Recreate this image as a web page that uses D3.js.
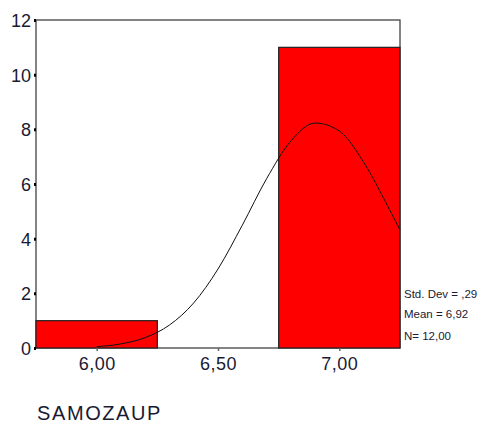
<!DOCTYPE html>
<html><head><meta charset="utf-8">
<script src="https://cdn.jsdelivr.net/npm/d3@7"></script>
<style>body{margin:0;background:#fff;}svg{display:block;font-family:Arial,"Liberation Sans",sans-serif;}</style>
</head><body>
<svg id="c" width="486" height="424"></svg>
<script>
// Histogram bins (lower edge, upper edge, count)
const binStarts = [5.75, 6.25, 6.75];
const binEnds   = [6.25, 6.75, 7.25];
const counts    = [1, 0, 11];
// Normal curve points
const curveX = [6.00, 6.10, 6.20, 6.30, 6.40, 6.50, 6.60, 6.70, 6.80, 6.90, 7.00, 7.10, 7.20, 7.25];
const curveY = [0.05, 0.15, 0.38, 0.84, 1.65, 2.89, 4.49, 6.19, 7.57, 8.23, 7.94, 6.80, 5.18, 4.32];
const yTicks = [0, 2, 4, 6, 8, 10, 12];
const xTicks = [6.0, 6.5, 7.0];
const xTickLabels = ["6,00", "6,50", "7,00"];
const statLines = ["Std. Dev = ,29", "Mean = 6,92", "N= 12,00"];
const axisTitle = "SAMOZAUP";

const svg = d3.select("#c");
const L = 36, R = 400, T = 20, B = 348;
const x = d3.scaleLinear().domain([5.75, 7.25]).range([L, R]);
const y = d3.scaleLinear().domain([0, 12]).range([B, T]);
const txt = "#1a1a33";

// frame
svg.append("rect").attr("x", L).attr("y", T).attr("width", R - L).attr("height", B - T)
  .attr("fill", "#fff").attr("stroke", "#333").attr("stroke-width", 1.2);

// bars
svg.selectAll("rect.bar").data(counts.map((c, i) => ({c, a: binStarts[i], b: binEnds[i]})).filter(d => d.c > 0))
  .enter().append("rect").attr("class", "bar")
  .attr("x", d => x(d.a)).attr("y", d => y(d.c))
  .attr("width", d => x(d.b) - x(d.a)).attr("height", d => y(0) - y(d.c))
  .attr("fill", "#ff0000").attr("stroke", "#222").attr("stroke-width", 1.2);

// curve
const line = d3.line().x(d => x(d[0])).y(d => y(d[1])).curve(d3.curveMonotoneX);
svg.append("path").datum(curveX.map((v, i) => [v, curveY[i]]))
  .attr("d", line).attr("fill", "none").attr("stroke", "#111").attr("stroke-width", 1);

// y axis
const yAxis = d3.axisLeft(y).tickValues(yTicks).tickSize(2).tickPadding(3).tickFormat(d3.format("d"));
const gy = svg.append("g").attr("transform", `translate(${L},0)`).call(yAxis);
gy.select(".domain").remove();
gy.selectAll(".tick line").attr("stroke", "#000").attr("stroke-width", 3);
gy.selectAll(".tick text").attr("font-size", 18).attr("fill", txt).attr("dy", "0.36em")
  .attr("font-family", "Arial, 'Liberation Sans', sans-serif");

// x axis
const xAxis = d3.axisBottom(x).tickValues(xTicks).tickSize(3).tickPadding(6)
  .tickFormat((d, i) => xTickLabels[i]);
const gx = svg.append("g").attr("transform", `translate(0,${B})`).call(xAxis);
gx.select(".domain").remove();
gx.selectAll(".tick line").attr("stroke", "#666").attr("stroke-width", 1.5);
gx.selectAll(".tick text").attr("font-size", 18).attr("fill", txt).attr("letter-spacing", "0.5px")
  .attr("font-family", "Arial, 'Liberation Sans', sans-serif");

// stats
svg.selectAll("text.stat").data(statLines).enter().append("text").attr("class", "stat")
  .attr("x", 404).attr("y", (d, i) => [298, 318, 340][i])
  .attr("font-size", 11.5).attr("letter-spacing", "0px").attr("fill", txt).text(d => d);

// axis title
svg.append("text").attr("x", 37).attr("y", 420).attr("font-size", 20).attr("letter-spacing", "1.6px")
  .attr("fill", txt).text(axisTitle);
</script>
</body></html>
